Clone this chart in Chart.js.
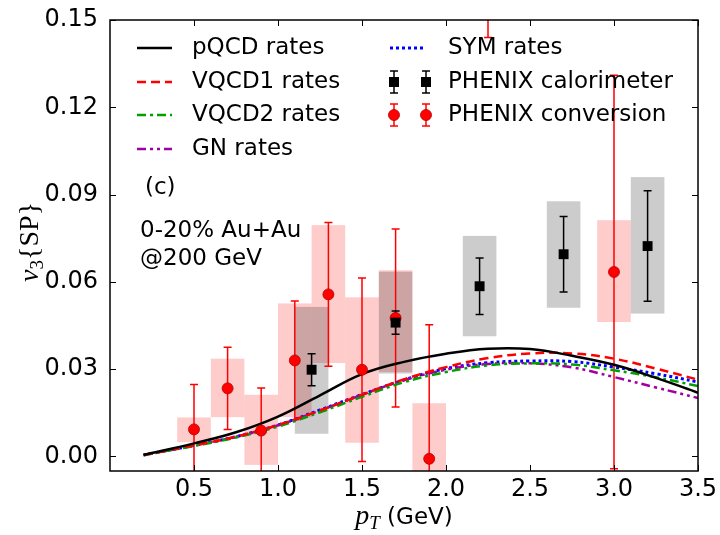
<!DOCTYPE html>
<html>
<head>
<meta charset="utf-8">
<script src="https://cdn.jsdelivr.net/npm/chart.js@4.4.1/dist/chart.umd.min.js"></script>
<style>
  html, body { margin: 0; padding: 0; background: #fff; }
  #wrap { width: 720px; height: 535px; }
</style>
</head>
<body>
<div id="wrap"><canvas id="v3Chart" width="720" height="535"></canvas></div>
<script>
// Model curves (v3{SP} vs pT)
const curvePt    = [0.2, 0.5, 0.75, 1.0, 1.25, 1.5, 1.75, 2.0, 2.25, 2.5, 2.75, 3.0, 3.25, 3.5];
const pqcdRates  = [0.0005, 0.0045, 0.0083, 0.0137, 0.0210, 0.0283, 0.0325, 0.0353, 0.0370, 0.0369, 0.0346, 0.0315, 0.0270, 0.0219];
const vqcd1Rates = [0.0005, 0.0038, 0.0068, 0.0108, 0.0158, 0.0212, 0.0265, 0.0307, 0.0338, 0.0354, 0.0354, 0.0336, 0.0302, 0.0264];
const vqcd2Rates = [0.0005, 0.0036, 0.0065, 0.0103, 0.0152, 0.0205, 0.0255, 0.0290, 0.0313, 0.0320, 0.0316, 0.0296, 0.0272, 0.0242];
const gnRates    = [0.0005, 0.0038, 0.0068, 0.0107, 0.0158, 0.0212, 0.0262, 0.0298, 0.0318, 0.0320, 0.0306, 0.0273, 0.0237, 0.0201];
const symRates   = [0.0005, 0.0038, 0.0068, 0.0108, 0.0160, 0.0213, 0.0263, 0.0302, 0.0322, 0.0328, 0.0326, 0.0307, 0.0284, 0.0256];

// PHENIX conversion (red)
const convPt    = [0.5, 0.7, 0.9, 1.1, 1.3, 1.5, 1.7, 1.9, 2.25, 3.0];
const convV3    = [0.0093, 0.0234, 0.0089, 0.0330, 0.0557, 0.0298, 0.0476, -0.0008, 0.170, 0.0634];
const convErr   = [0.0154, 0.0141, 0.0146, 0.0204, 0.0247, 0.0315, 0.0306, 0.0461, 0.026, 0.0676];
const convSysLo = [0.0049, 0.0135, -0.0029, 0.0135, 0.0321, 0.0047, 0.0290, -0.006, 0.155, 0.0462];
const convSysHi = [0.0134, 0.0336, 0.0212, 0.0526, 0.0795, 0.0547, 0.0640, 0.0183, 0.190, 0.0812];

// PHENIX calorimeter (black)
const caloPt    = [1.2, 1.7, 2.2, 2.7, 3.2];
const caloV3    = [0.0298, 0.0460, 0.0585, 0.0695, 0.0723];
const caloErr   = [0.0055, 0.0040, 0.0097, 0.0130, 0.0190];
const caloSysLo = [0.0078, 0.0285, 0.0413, 0.0511, 0.0491];
const caloSysHi = [0.0514, 0.0635, 0.0758, 0.0877, 0.0960];

const binHalfWidth = 0.1;
const xTicks = [0.5, 1.0, 1.5, 2.0, 2.5, 3.0, 3.5];
const yTicks = [0.00, 0.03, 0.06, 0.09, 0.12, 0.15];

Chart.defaults.font.family = "'DejaVu Sans', sans-serif";
Chart.defaults.color = '#000';

const toXY = (xs, ys) => xs.map((x, i) => ({ x: x, y: ys[i] }));

const curves = [
  { label: 'pQCD rates',  data: pqcdRates,  color: '#000000', dash: [],                 width: 2.5 },
  { label: 'VQCD1 rates', data: vqcd1Rates, color: '#ff0000', dash: [9, 5],             width: 2.5 },
  { label: 'VQCD2 rates', data: vqcd2Rates, color: '#00a000', dash: [9, 4, 3, 4],       width: 2.5 },
  { label: 'GN rates',    data: gnRates,    color: '#a000a0', dash: [9, 4, 3, 4, 3, 4], width: 2.5 },
  { label: 'SYM rates',   data: symRates,   color: '#0000ff', dash: [3, 3],             width: 3 }
];

function drawErrBar(ctx, x, yLo, yHi, color, cap) {
  ctx.strokeStyle = color;
  ctx.lineWidth = 1.5;
  ctx.beginPath();
  ctx.moveTo(x, yLo); ctx.lineTo(x, yHi);
  ctx.moveTo(x - cap, yLo); ctx.lineTo(x + cap, yLo);
  ctx.moveTo(x - cap, yHi); ctx.lineTo(x + cap, yHi);
  ctx.stroke();
}

function drawRuns(ctx, runs, cx, baseY) {
  let total = 0;
  runs.forEach(r => { ctx.font = r.font; total += ctx.measureText(r.text).width; });
  let x = cx - total / 2;
  runs.forEach(r => {
    ctx.font = r.font;
    ctx.fillText(r.text, x, baseY + (r.dy || 0));
    x += ctx.measureText(r.text).width;
  });
}

const decorations = {
  id: 'decorations',
  beforeDatasetsDraw(chart) {
    const { ctx, chartArea: a, scales: { x, y } } = chart;
    ctx.save();
    ctx.beginPath();
    ctx.rect(a.left, a.top, a.right - a.left, a.bottom - a.top);
    ctx.clip();
    // systematic boxes
    ctx.fillStyle = 'rgba(255,0,0,0.2)';
    convPt.forEach((p, i) => {
      const x0 = x.getPixelForValue(p - binHalfWidth), x1 = x.getPixelForValue(p + binHalfWidth);
      const y0 = y.getPixelForValue(convSysHi[i]), y1 = y.getPixelForValue(convSysLo[i]);
      ctx.fillRect(x0, y0, x1 - x0, y1 - y0);
    });
    ctx.fillStyle = 'rgba(0,0,0,0.2)';
    caloPt.forEach((p, i) => {
      const x0 = x.getPixelForValue(p - binHalfWidth), x1 = x.getPixelForValue(p + binHalfWidth);
      const y0 = y.getPixelForValue(caloSysHi[i]), y1 = y.getPixelForValue(caloSysLo[i]);
      ctx.fillRect(x0, y0, x1 - x0, y1 - y0);
    });
    // statistical error bars
    convPt.forEach((p, i) => {
      drawErrBar(ctx, x.getPixelForValue(p), y.getPixelForValue(convV3[i] - convErr[i]),
                 y.getPixelForValue(convV3[i] + convErr[i]), '#ff0000', 4);
    });
    caloPt.forEach((p, i) => {
      drawErrBar(ctx, x.getPixelForValue(p), y.getPixelForValue(caloV3[i] - caloErr[i]),
                 y.getPixelForValue(caloV3[i] + caloErr[i]), '#000000', 4);
    });
    ctx.restore();
  },
  afterDraw(chart) {
    const { ctx, chartArea: a, scales: { x, y } } = chart;
    ctx.save();
    // frame + inward ticks
    ctx.strokeStyle = '#000';
    ctx.lineWidth = 1.5;
    ctx.strokeRect(a.left, a.top, a.right - a.left, a.bottom - a.top);
    ctx.lineWidth = 1;
    ctx.beginPath();
    xTicks.forEach(v => {
      const px = Math.round(x.getPixelForValue(v)) + 0.5;
      ctx.moveTo(px, a.bottom); ctx.lineTo(px, a.bottom - 6);
      ctx.moveTo(px, a.top); ctx.lineTo(px, a.top + 6);
    });
    yTicks.forEach(v => {
      const py = Math.round(y.getPixelForValue(v)) + 0.5;
      ctx.moveTo(a.left, py); ctx.lineTo(a.left + 6, py);
      ctx.moveTo(a.right, py); ctx.lineTo(a.right - 6, py);
    });
    ctx.stroke();

    // legend
    ctx.font = "23px 'DejaVu Sans'";
    ctx.fillStyle = '#000';
    ctx.textBaseline = 'middle';
    ctx.textAlign = 'left';
    const rows = [48, 82, 115, 149];
    curves.slice(0, 4).forEach((c, i) => {
      ctx.strokeStyle = c.color; ctx.lineWidth = c.width; ctx.setLineDash(c.dash);
      ctx.beginPath(); ctx.moveTo(137, rows[i]); ctx.lineTo(172, rows[i]); ctx.stroke();
      ctx.setLineDash([]);
      ctx.fillText(c.label, 192, rows[i]);
    });
    const sym = curves[4];
    ctx.strokeStyle = sym.color; ctx.lineWidth = sym.width; ctx.setLineDash(sym.dash);
    ctx.beginPath(); ctx.moveTo(390, rows[0]); ctx.lineTo(425, rows[0]); ctx.stroke();
    ctx.setLineDash([]);
    ctx.fillText(sym.label, 448, rows[0]);
    [394, 426].forEach(px => {
      drawErrBar(ctx, px, rows[1] - 11, rows[1] + 11, '#000000', 4);
      ctx.fillStyle = '#000';
      ctx.fillRect(px - 5, rows[1] - 5, 10, 10);
      drawErrBar(ctx, px, rows[2] - 11, rows[2] + 11, '#ff0000', 4);
      ctx.fillStyle = '#ff0000';
      ctx.beginPath(); ctx.arc(px, rows[2], 5.5, 0, Math.PI * 2); ctx.fill();
      ctx.strokeStyle = '#b00000'; ctx.lineWidth = 0.8; ctx.stroke();
    });
    ctx.fillStyle = '#000';
    ctx.fillText('PHENIX calorimeter', 448, rows[1]);
    ctx.fillText('PHENIX conversion', 448, rows[2]);

    // annotations
    ctx.fillText('(c)', 145, 188);
    ctx.fillText('0-20% Au+Au', 140, 231);
    ctx.fillText('@200 GeV', 140, 259);

    // axis titles
    ctx.textBaseline = 'alphabetic';
    drawRuns(ctx, [
      { text: 'p', font: "italic 28px 'Liberation Serif'" },
      { text: 'T', font: "italic 19px 'Liberation Serif'", dy: 5 },
      { text: ' (GeV)', font: "23px 'DejaVu Sans'" }
    ], (a.left + a.right) / 2, 524);
    ctx.translate(38, 242);
    ctx.rotate(-Math.PI / 2);
    drawRuns(ctx, [
      { text: 'v', font: "italic 28px 'Liberation Serif'" },
      { text: '3', font: "19px 'Liberation Serif'", dy: 5 },
      { text: '{SP}', font: "28px 'Liberation Serif'" }
    ], 0, 0);
    ctx.restore();
  }
};

const datasets = [
  {
    label: 'PHENIX calorimeter', data: toXY(caloPt, caloV3), order: 0,
    pointStyle: 'rect', pointRadius: 7, backgroundColor: '#000', borderColor: '#000', borderWidth: 0
  },
  {
    label: 'PHENIX conversion', data: toXY(convPt, convV3), order: 0,
    pointStyle: 'circle', pointRadius: 5.5, backgroundColor: '#ff0000', borderColor: '#b00000', borderWidth: 0.8
  }
].concat(curves.map(c => ({
  label: c.label, data: toXY(curvePt, c.data), order: 1,
  showLine: true, pointRadius: 0, borderColor: c.color, borderWidth: c.width,
  borderDash: c.dash, tension: 0.4, fill: false
})));

new Chart(document.getElementById('v3Chart'), {
  type: 'scatter',
  data: { datasets: datasets },
  options: {
    responsive: false,
    animation: false,
    devicePixelRatio: 1,
    layout: { padding: { top: 20, right: 22, left: 0, bottom: 0 } },
    plugins: { legend: { display: false }, tooltip: { enabled: false } },
    scales: {
      x: {
        type: 'linear', min: 0, max: 3.5,
        grid: { display: false }, border: { display: false },
        ticks: { font: { size: 24 }, color: '#000', padding: -4, maxRotation: 0, autoSkip: false,
                 callback: v => Number(v).toFixed(1) },
        afterBuildTicks: s => { s.ticks = xTicks.map(v => ({ value: v })); },
        afterFit: s => { s.height = 64; }
      },
      y: {
        type: 'linear', min: -0.005, max: 0.15,
        grid: { display: false }, border: { display: false },
        ticks: { font: { size: 24 }, color: '#000', padding: 4, autoSkip: false,
                 callback: v => Number(v).toFixed(2) },
        afterBuildTicks: s => { s.ticks = yTicks.map(v => ({ value: v })); },
        afterFit: s => { s.width = 110; }
      }
    }
  },
  plugins: [decorations]
});
</script>
</body>
</html>
